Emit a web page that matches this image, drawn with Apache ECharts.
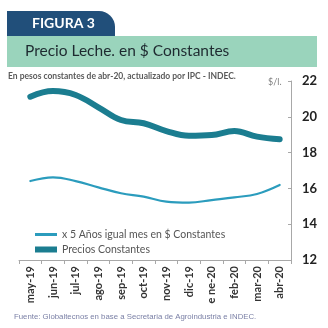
<!DOCTYPE html>
<html>
<head>
<meta charset="utf-8">
<script src="https://cdn.jsdelivr.net/npm/echarts@6/dist/echarts.min.js"></script>
<style>
  html, body { margin: 0; padding: 0; background: #fff; }
  #chart { width: 328px; height: 328px; }
</style>
</head>
<body>
<div id="chart"></div>
<script>
// Monthly milk price, constant pesos of abr-20 ($/l.)
const months = ['may-19', 'jun-19', 'jul-19', 'ago-19', 'sep-19', 'oct-19',
                'nov-19', 'dic-19', 'e ne-20', 'feb-20', 'mar-20', 'abr-20'];
const fiveYearAvg = [16.41, 16.62, 16.41, 16.06, 15.73, 15.54,
                     15.26, 15.20, 15.35, 15.50, 15.69, 16.19];
const constantPrices = [21.12, 21.44, 21.22, 20.53, 19.82, 19.64,
                        19.20, 18.94, 18.98, 19.20, 18.89, 18.74];
const yTicks = { min: 12, max: 22, step: 2 };

const thinName = 'x 5 Años igual mes en $ Constantes';
const thickName = 'Precios Constantes';
const thinColor = '#2b9cbd';
const thickColor = '#1b7d90';

const chart = echarts.init(document.getElementById('chart'), null, { renderer: 'canvas' });

chart.setOption({
  animation: false,
  backgroundColor: '#ffffff',
  textStyle: { fontFamily: 'Lato' },
  graphic: [
    // Dark tab with rounded top-right corner
    {
      type: 'rect',
      shape: { x: 7, y: 11, width: 108, height: 26, r: [0, 16, 0, 0] },
      style: { fill: '#214f7a' }
    },
    {
      type: 'text',
      left: 32, top: 16,
      style: { text: 'FIGURA 3', fill: '#ffffff', font: 'bold 14px Lato' }
    },
    // Green title band
    {
      type: 'rect',
      shape: { x: 7, y: 36, width: 310, height: 31 },
      style: { fill: '#9ad4bc' }
    },
    {
      type: 'text',
      left: 25, top: 43,
      style: { text: 'Precio Leche. en $ Constantes', fill: '#1e2a30', font: '15.5px Lato' }
    },
    {
      type: 'text',
      left: 8, top: 72,
      style: { text: 'En pesos constantes de abr-20, actualizado por IPC - INDEC.', fill: '#5a5a5a', font: 'bold 8.5px Lato' }
    },
    {
      type: 'text',
      left: 268, top: 78,
      style: { text: '$/l.', fill: '#808080', font: '9px Lato' }
    },
    {
      type: 'text',
      left: 14, top: 313,
      style: { text: 'Fuente: Globaltecnos en base a Secretaria de Agroindustria e INDEC.', fill: '#7b80a6', font: '7.8px "Liberation Sans"' }
    }
  ],
  legend: [
    {
      data: [thinName],
      left: 30, top: 224,
      itemWidth: 22, itemHeight: 3,
      itemGap: 4,
      icon: 'rect',
      textStyle: { fontFamily: 'Lato', fontSize: 10.5, color: '#555555' }
    },
    {
      data: [thickName],
      left: 30, top: 239,
      itemWidth: 22, itemHeight: 6,
      icon: 'rect',
      textStyle: { fontFamily: 'Lato', fontSize: 10.5, color: '#555555' }
    }
  ],
  grid: { left: 19, right: 37, top: 81, bottom: 68, containLabel: false },
  xAxis: {
    type: 'category',
    data: months,
    boundaryGap: true,
    axisLine: { lineStyle: { color: '#a8a8a8', width: 1 } },
    axisTick: { show: true, interval: 0, length: 4, lineStyle: { color: '#a8a8a8' } },
    axisLabel: {
      interval: 0, rotate: 90, margin: 6,
      fontFamily: 'Lato', fontSize: 11, fontWeight: 'bold', color: '#333333'
    },
    splitLine: { show: false }
  },
  yAxis: {
    type: 'value',
    position: 'right',
    min: yTicks.min, max: yTicks.max, interval: yTicks.step,
    axisLine: { show: true, lineStyle: { color: '#a8a8a8', width: 1 } },
    axisTick: { show: true, inside: true, length: 3, lineStyle: { color: '#a8a8a8' } },
    axisLabel: {
      margin: 11, fontFamily: 'Lato', fontSize: 13, fontWeight: 'bold', color: '#222222'
    },
    splitLine: { show: false }
  },
  series: [
    {
      name: thinName,
      type: 'line',
      data: fiveYearAvg,
      smooth: 0.4,
      symbol: 'none',
      lineStyle: { color: thinColor, width: 2.2, cap: 'round' },
      itemStyle: { color: thinColor }
    },
    {
      name: thickName,
      type: 'line',
      data: constantPrices,
      smooth: 0.4,
      symbol: 'none',
      lineStyle: { color: thickColor, width: 6, cap: 'round' },
      itemStyle: { color: thickColor }
    }
  ]
});
</script>
</body>
</html>
